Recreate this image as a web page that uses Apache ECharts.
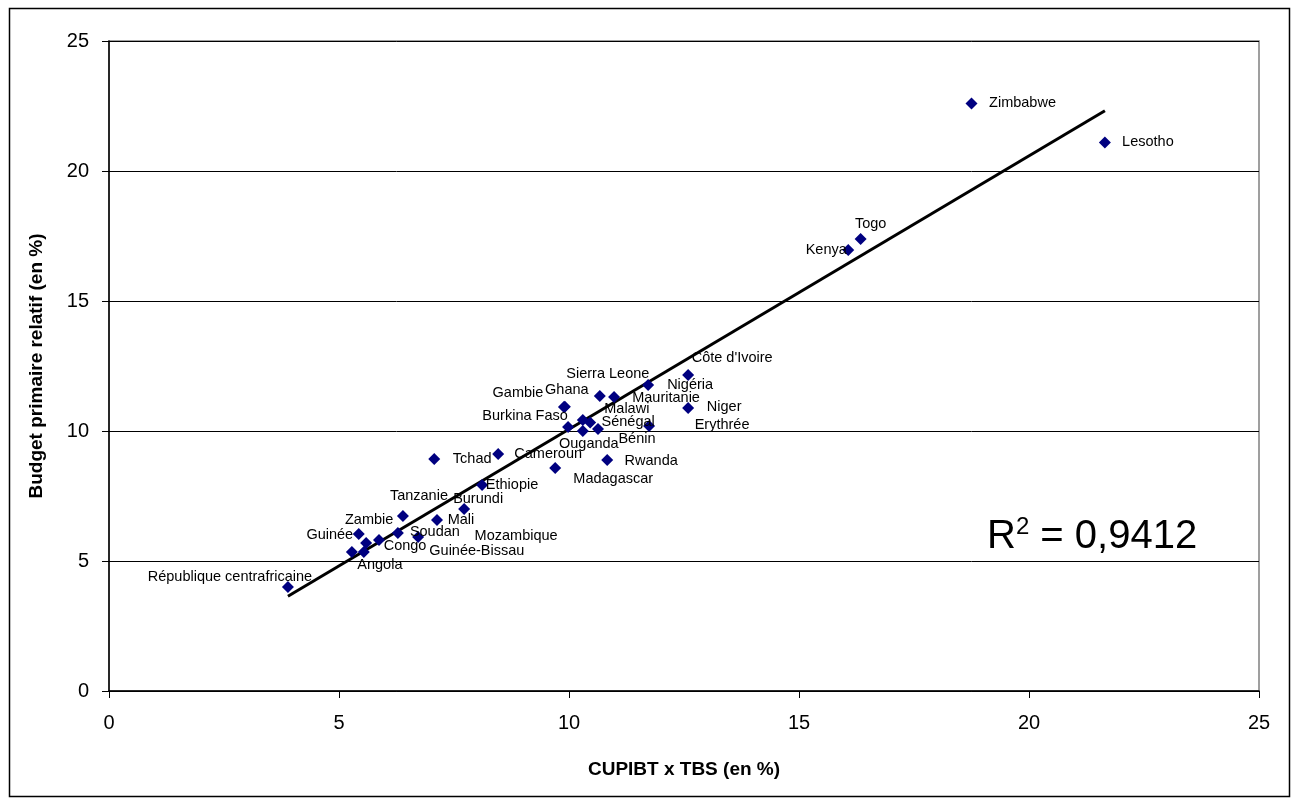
<!DOCTYPE html>
<html>
<head>
<meta charset="utf-8">
<script src="https://cdn.jsdelivr.net/npm/echarts@6/dist/echarts.min.js"></script>
<style>
html,body{margin:0;padding:0;background:#fff;}
#chart{width:1291px;height:807px;}
</style>
</head>
<body>
<div id="chart"></div>
<script>
// ---- data ----
const countries = ["République centrafricaine","Angola","Guinée-Bissau","Guinée","Zambie","Congo","Soudan","Tanzanie","Mozambique","Mali","Burundi","Ethiopie","Tchad","Cameroun","Madagascar","Rwanda","Burkina Faso","Gambie","Ghana","Sierra Leone","Malawi","Sénégal","Ouganda","Bénin","Mauritanie","Nigéria","Côte d'Ivoire","Niger","Erythrée","Kenya","Togo","Zimbabwe","Lesotho"];
const xValues = [3.89,5.28,5.54,5.43,5.59,5.87,6.28,6.39,6.72,7.13,7.72,8.11,7.07,8.46,9.70,10.83,9.98,9.89,9.91,10.67,10.30,10.46,10.30,10.63,10.98,11.72,12.59,12.59,11.74,16.07,16.34,18.75,21.65];
const yValues = [4.00,5.35,5.35,6.04,5.69,5.81,6.08,6.73,5.92,6.58,7.00,7.92,8.92,9.12,8.58,8.88,10.15,10.92,10.93,11.35,10.42,10.33,10.00,10.08,11.31,11.77,12.15,10.88,10.19,16.96,17.38,22.60,21.10];
const xTicks = [0,5,10,15,20,25];
const yTicks = [0,5,10,15,20,25];
const r2Text = "0,9412";

// ---- label placement (style only: label centre offset from marker, px) ----
const labelOffsets = {
 "République centrafricaine":[-58,-10],"Angola":[28,13],"Guinée-Bissau":[113,-1],"Guinée":[-29,1],
 "Zambie":[3,-23],"Congo":[26,6],"Soudan":[37,-1],"Tanzanie":[16,-20],"Mozambique":[98,-1],
 "Mali":[24,0],"Burundi":[14,-10],"Ethiopie":[30,0],"Tchad":[38,0],"Cameroun":[50,0],
 "Madagascar":[58,11],"Rwanda":[44,1],"Burkina Faso":[-43,-11],"Gambie":[-46,-14],"Ghana":[2,-17],
 "Sierra Leone":[8,-22],"Malawi":[44,-11],"Sénégal":[38,0],"Ouganda":[6,13],"Bénin":[39,10],
 "Mauritanie":[52,1],"Nigéria":[42,0],"Côte d'Ivoire":[44,-17],"Niger":[36,-1],"Erythrée":[73,-1],
 "Kenya":[-22,0],"Togo":[10,-15],"Zimbabwe":[51,0],"Lesotho":[43,0]
};

// linear regression trend line from the data
const n = xValues.length;
const mx = xValues.reduce((a,b)=>a+b,0)/n, my = yValues.reduce((a,b)=>a+b,0)/n;
let sxy=0,sxx=0;
for(let i=0;i<n;i++){sxy+=(xValues[i]-mx)*(yValues[i]-my);sxx+=(xValues[i]-mx)**2;}
const slope = sxy/sxx, icpt = my - slope*mx;
const xmin = Math.min(...xValues), xmax = Math.max(...xValues);
const trend = [[xmin, icpt+slope*xmin],[xmax, icpt+slope*xmax]];

const points = countries.map((c,i)=>({name:c, value:[xValues[i], yValues[i]]}));

const FONT = '"Liberation Sans", Arial, sans-serif';
const chart = echarts.init(document.getElementById('chart'), null, {renderer:'canvas'});
chart.setOption({
  animation:false,
  backgroundColor:'#fff',
  grid:{left:109, right:32, top:41, bottom:116, show:true, borderColor:'#808080', borderWidth:1.5},
  xAxis:{
    type:'value', min:0, max:25, interval:5,
    name:'CUPIBT x TBS (en %)', nameLocation:'middle', nameGap:69,
    nameTextStyle:{fontFamily:FONT, fontWeight:'bold', fontSize:19, color:'#000'},
    axisLine:{show:true, onZero:false, lineStyle:{color:'#000', width:1.5}},
    axisTick:{show:true, length:7, lineStyle:{color:'#000'}},
    axisLabel:{fontFamily:FONT, fontSize:20, color:'#000', margin:22, formatter:v=>xTicks.includes(v)?String(v):''},
    splitLine:{show:false}
  },
  yAxis:{
    type:'value', min:0, max:25, interval:5,
    name:'Budget primaire relatif (en %)', nameLocation:'middle', nameGap:63, nameRotate:90,
    nameTextStyle:{fontFamily:FONT, fontWeight:'bold', fontSize:19, color:'#000'},
    axisLine:{show:true, onZero:false, lineStyle:{color:'#000', width:1.5}},
    axisTick:{show:true, length:7, lineStyle:{color:'#000'}},
    axisLabel:{fontFamily:FONT, fontSize:20, color:'#000', margin:20, formatter:v=>yTicks.includes(v)?String(v):''},
    splitLine:{show:true, lineStyle:{color:'#000', width:1}}
  },
  series:[
    {
      type:'line', data:trend, symbol:'none', silent:true,
      lineStyle:{color:'#000', width:3}, z:3
    },
    {
      type:'scatter', data:points, symbol:'diamond', symbolSize:12,
      itemStyle:{color:'#000080', opacity:1}, z:4,
      label:{show:true, position:'inside', formatter:p=>p.name,
             fontFamily:FONT, fontSize:14.5, color:'#000', opacity:1},
      labelLayout:function(params){
        const o = labelOffsets[countries[params.dataIndex]] || [20,0];
        return {dx:o[0], dy:o[1], hideOverlap:false};
      }
    }
  ],
  graphic:[
    {type:'rect', shape:{x:9.5, y:8.5, width:1280, height:788}, style:{fill:null, stroke:'#000', lineWidth:1.5}, silent:true, z:-1},
    {type:'text', x:987, y:537, style:{
      text:'{r|R}{s|2}{r| = '+r2Text+'}',
      rich:{r:{fontFamily:FONT, fontSize:40, fill:'#000', verticalAlign:'middle'},
            s:{fontFamily:FONT, fontSize:24, fill:'#000', padding:[0,0,20,0]}},
      verticalAlign:'middle', align:'left'
    }}
  ]
});
</script>
</body>
</html>
